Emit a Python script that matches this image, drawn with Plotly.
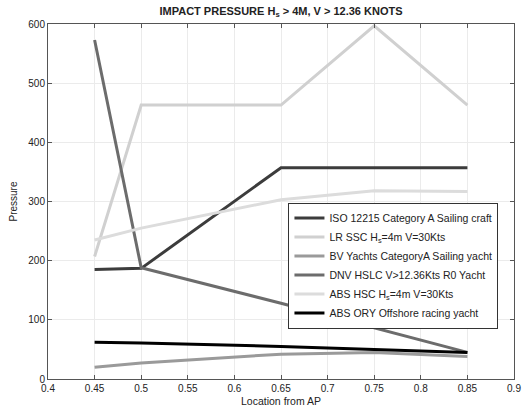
import plotly.graph_objects as go

x = [0.45, 0.5, 0.65, 0.75, 0.85]
iso = [185, 187, 357, 357, 357]
lr_ssc = [207, 463, 463, 597, 463]
bv = [20, 27, 42, 45, 38]
dnv = [573, 188, 128, 86, 45]
abs_hsc = [235, 255, 303, 318, 317]
abs_ory = [62, 61, 55, 50, 45]

names = ["ISO 12215 Category A Sailing craft",
         "LR SSC H<sub>s</sub>=4m V=30Kts",
         "BV Yachts CategoryA Sailing yacht",
         "DNV HSLC V>12.36Kts R0 Yacht",
         "ABS HSC H<sub>s</sub>=4m V=30Kts",
         "ABS ORY Offshore racing yacht"]
series = [iso, lr_ssc, bv, dnv, abs_hsc, abs_ory]
colors = ["#3c3c3c", "#d0d0d0", "#9a9a9a", "#6c6c6c", "#dcdcdc", "#000000"]

fig = go.Figure()
for n, s, c in zip(names, series, colors):
    fig.add_trace(go.Scatter(x=x, y=s, name=n, mode="lines",
                             line=dict(color=c, width=3)))

axis_common = dict(showgrid=True, gridcolor="#ebebeb", gridwidth=1,
                   showline=True, linecolor="#555", linewidth=1, mirror="ticks",
                   ticks="inside", ticklen=4, tickcolor="#555", zeroline=False,
                   tickfont=dict(size=10, color="#222"))
fig.update_layout(
    width=531, height=415,
    margin=dict(l=48, r=10, t=24, b=31),
    paper_bgcolor="white", plot_bgcolor="white",
    font=dict(family="Liberation Sans, Arial, sans-serif", color="#222"),
    title=dict(text="<b>IMPACT PRESSURE H<sub>s</sub> > 4M, V > 12.36 KNOTS</b>",
               x=0.5, xanchor="center", xref="paper", y=0.983, yanchor="top",
               font=dict(size=11, color="#222")),
    xaxis=dict(range=[0.4, 0.9], dtick=0.05, tickformat=".2~f",
               title=dict(text="Location from AP", font=dict(size=10.5), standoff=4),
               **axis_common),
    yaxis=dict(range=[0, 600], dtick=100,
               title=dict(text="Pressure", font=dict(size=10), standoff=8),
               **axis_common),
    legend=dict(x=0.516, y=0.497, xanchor="left", yanchor="top",
                bgcolor="white", bordercolor="#333", borderwidth=1,
                font=dict(size=10.5, color="#222"), tracegroupgap=0,
                itemwidth=30),
    showlegend=True,
)
fig.write_html("out.html")
